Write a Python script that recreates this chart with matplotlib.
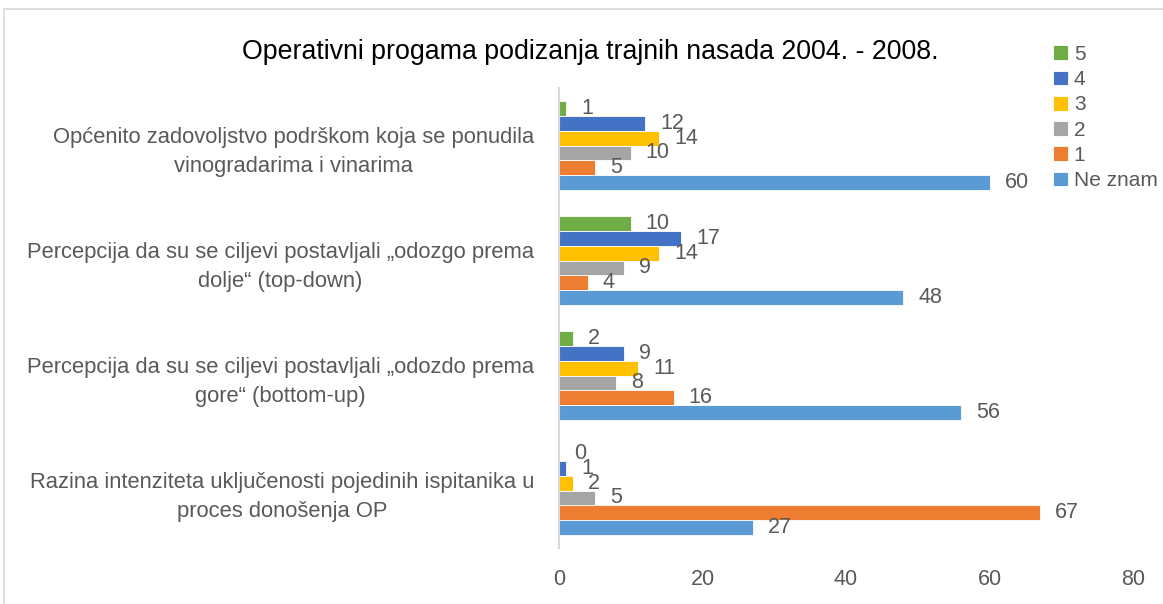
import matplotlib
matplotlib.use("Agg")
import matplotlib.pyplot as plt
from matplotlib.patches import Rectangle
import numpy as np

categories = [
    "Općenito zadovoljstvo podrškom koja se ponudila\nvinogradarima i vinarima",
    "Percepcija da su se ciljevi postavljali „odozgo prema\ndolje“ (top-down)",
    "Percepcija da su se ciljevi postavljali „odozdo prema\ngore“ (bottom-up)",
    "Razina intenziteta uključenosti pojedinih ispitanika u\nproces donošenja OP",
]
series_names = ["5", "4", "3", "2", "1", "Ne znam"]
values_5 = [1, 10, 2, 0]
values_4 = [12, 17, 9, 1]
values_3 = [14, 14, 11, 2]
values_2 = [10, 9, 8, 5]
values_1 = [5, 4, 16, 67]
values_ne_znam = [60, 48, 56, 27]
series_values = [values_5, values_4, values_3, values_2, values_1, values_ne_znam]
colors = ["#70AD47", "#4472C4", "#FFC000", "#A5A5A5", "#ED7D31", "#5B9BD5"]
xticks = [0, 20, 40, 60, 80]

plt.rcParams['font.family'] = ['Liberation Sans', 'DejaVu Sans']
txt = "#595959"

fig = plt.figure(figsize=(11.63, 6.04), dpi=100)
ax = fig.add_axes([559/1163, 1-548/604, (1133-559)/1163, (548-88)/604])

h = 14.7/115
y = np.arange(len(categories))
for k, (name, vals, c) in enumerate(zip(series_names, series_values, colors)):
    off = (k - 2.5) * h
    bars = ax.barh(y + off, vals, height=h, color=c, label=name,
                   edgecolor='white', linewidth=0.6)
    for b, v in zip(bars, vals):
        ax.annotate(str(v), (b.get_width(), b.get_y() + b.get_height()/2),
                    xytext=(15*0.72, 0), textcoords='offset points',
                    ha='left', va='center', fontsize=15.5, color=txt)

ax.set_ylim(3.5, -0.5)
ax.set_xlim(0, 80)
ax.set_xticks(xticks)
ax.set_yticks(y)
ax.set_yticklabels(categories, fontsize=15.8, color=txt, ha='right',
                   multialignment='center', linespacing=1.5)
ax.tick_params(axis='x', length=0, pad=15, labelsize=15.5, labelcolor=txt)
ax.tick_params(axis='y', length=0, pad=18)
for s in ['top', 'right', 'bottom']:
    ax.spines[s].set_visible(False)
ax.spines['left'].set_color('#D9D9D9')
ax.spines['left'].set_linewidth(1.5)

fig.text(590/1163, 1-52/604, "Operativni progama podizanja trajnih nasada 2004. - 2008.",
         ha='center', va='center', fontsize=19.3, color='black')

handles, labels = ax.get_legend_handles_labels()
leg = fig.legend(handles, labels, loc='upper left', bbox_to_anchor=(1053/1163, 1-45/604),
                 frameon=False, fontsize=15, handlelength=0.7, handleheight=0.7,
                 handletextpad=0.3, labelspacing=0.3, borderaxespad=0, borderpad=0)
for t in leg.get_texts():
    t.set_color(txt)

fig.add_artist(Rectangle((3.5/1163, -0.1), 1.2, 1.1 - 9.5/604, transform=fig.transFigure,
                         fill=False, edgecolor='#D9D9D9', linewidth=1.2))

fig.savefig("out.png", dpi=100)
